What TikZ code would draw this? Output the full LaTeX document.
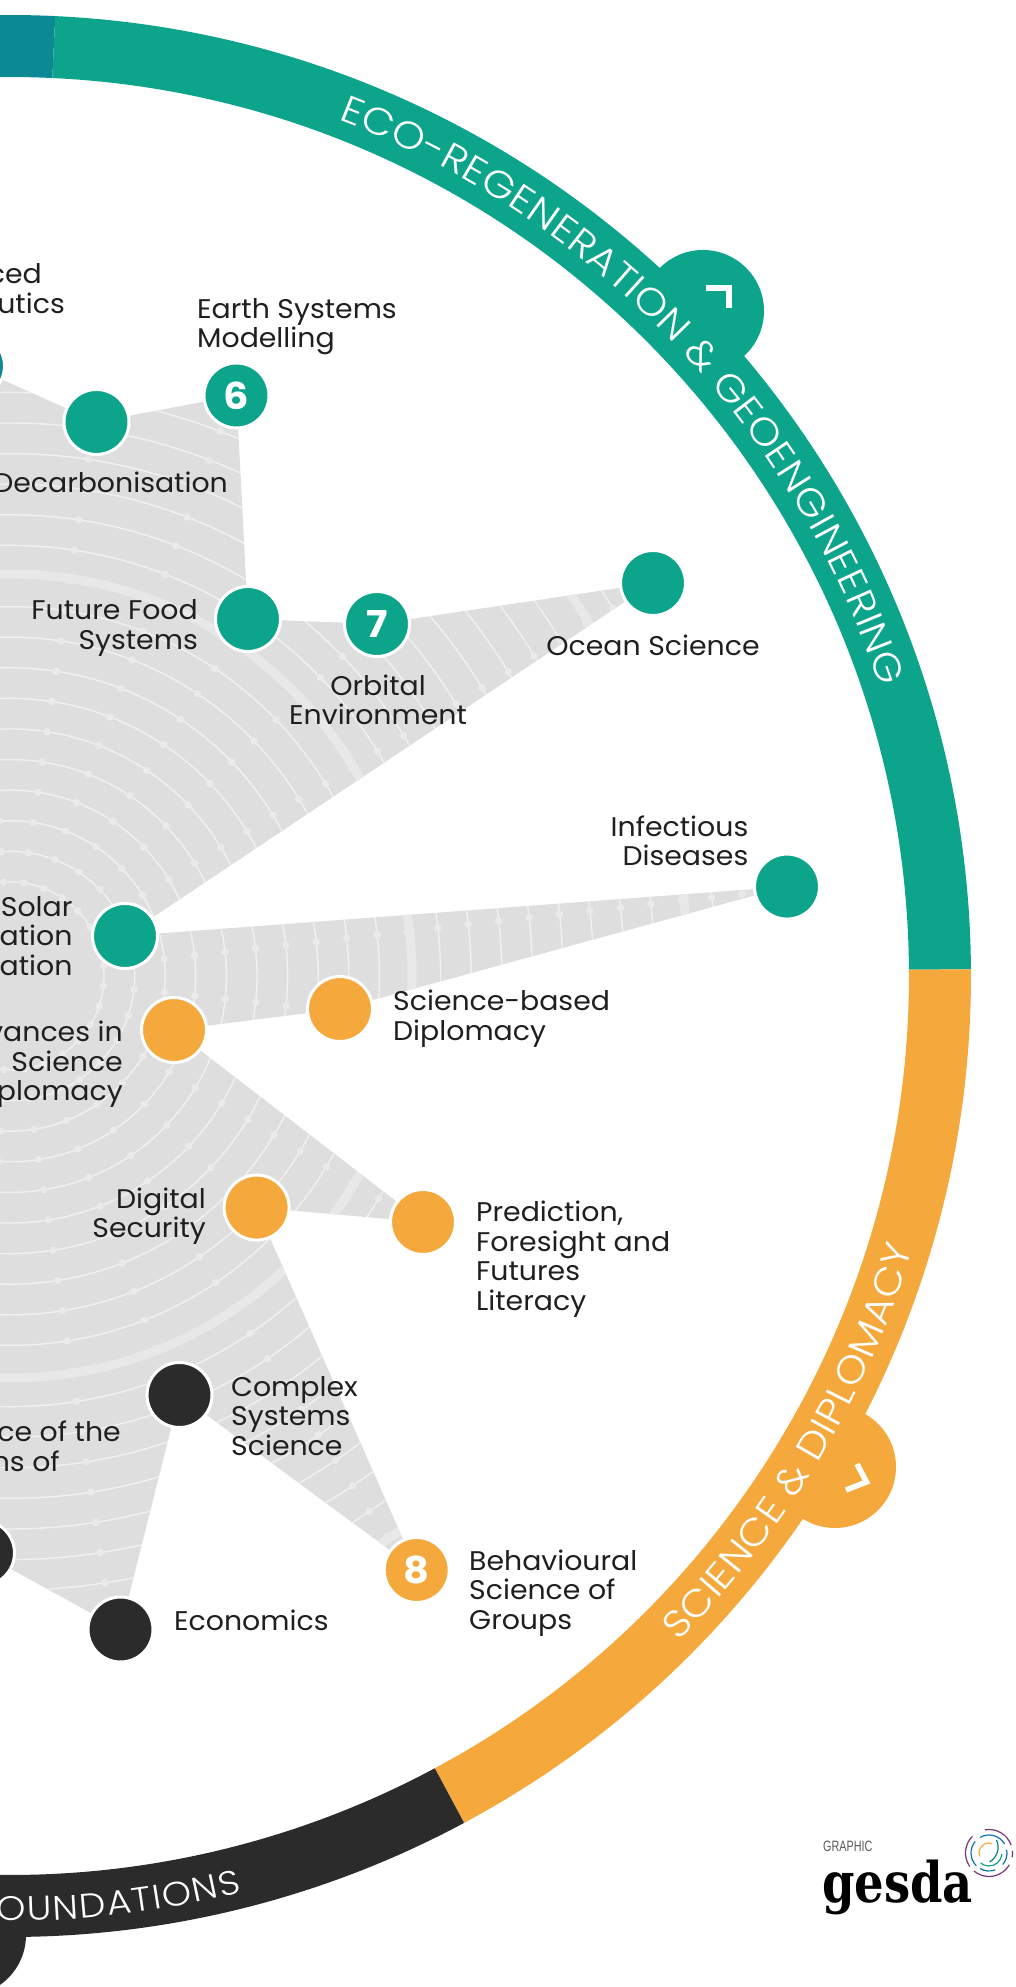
\documentclass[tikz,border=0pt]{standalone}
\usepackage{fontspec}
\usetikzlibrary{decorations.text,backgrounds}
\setmainfont{Poppins}
\newfontfamily\labelf{Poppins}[FakeStretch=1.05]
\newfontfamily\ringf{Poppins Light}[FakeStretch=1.1]
\newfontfamily\numf{Poppins Bold}[FakeStretch=1.08]
\newfontfamily\logof{DejaVu Serif}[FakeStretch=0.83]
\newfontfamily\gfont{Liberation Sans}[FakeStretch=0.72]
\definecolor{teal1}{HTML}{0CA48B}
\definecolor{blue1}{HTML}{0B8A96}
\definecolor{orange1}{HTML}{F5A93D}
\definecolor{dark1}{HTML}{2B2B2B}
\definecolor{wedge}{HTML}{DEDEDE}
\definecolor{arcc}{HTML}{F0F0F0}
\definecolor{dotc}{HTML}{EAEAEA}
\definecolor{thick1}{HTML}{E8E8E8}
\tikzset{
  dotnode/.style={circle,minimum size=65,inner sep=0,draw=white,line width=3pt,text=white,font={\fontsize{37}{37}\selectfont\numf}},
  tn/.style={dotnode,fill=teal1},
  on/.style={dotnode,fill=orange1},
  dn/.style={dotnode,fill=dark1},
  lab/.style={inner sep=0,text=black!88,font={\fontsize{27}{29.5}\selectfont\labelf}},
  chev/.style={draw=white,line width=5.5pt,line join=miter},
}
\newcommand{\ringseg}[3]{\fill[#1] ([shift={(C)}]#2:961) arc[start angle=#2,end angle=#3,radius=961] -- ([shift={(C)}]#3:899) arc[start angle=#3,end angle=#2,radius=899] -- cycle;}
\begin{document}
\begin{tikzpicture}[x=1pt,y=1pt]
\path[use as bounding box,clip] (0,0) rectangle (1016,1987);
\coordinate (C) at (10,1011);
% ring
\ringseg{blue1}{87.3}{95}
\ringseg{teal1}{0.4}{87.3}
\ringseg{orange1}{-61.8}{0.4}
\ringseg{dark1}{-95}{-61.8}
% bumps
\node[circle,fill=teal1,minimum size=122,inner sep=0] (bumpT) at (703,1987-311) {};
\node[circle,fill=orange1,minimum size=122,inner sep=0] (bumpO) at (835,1987-1467) {};
\node[circle,fill=dark1,minimum size=122,inner sep=0] (bumpD) at (-35,1987-1935) {};
\draw[chev] (706,1987-288) -- (729,1987-288) -- (729,1987-308);
\draw[chev] (857,1987-1464) -- (866.5,1987-1482) -- (846,1987-1490);
% ring text
\path[decorate,decoration={text along path,text align={fit to path},
  text={|\fontsize{38}{38}\selectfont\ringf\color{white}|ECO-REGENERATION {\&} GEOENGINEERING}}]
  ([shift={(C)}]69:917) arc[start angle=69,end angle=18.4,radius=917];
\path[decorate,decoration={text along path,text align={fit to path},
  text={|\fontsize{38}{38}\selectfont\ringf\color{white}|SCIENCE {\&} DIPLOMACY}}]
  ([shift={(C)}]-44.9:943) arc[start angle=-44.9,end angle=-16.8,radius=943];
\path[decorate,decoration={text along path,text align={fit to path},
  text={|\fontsize{34}{34}\selectfont\ringf\color{white}|OUNDATIONS}}]
  ([shift={(C)}]-90.8:945) arc[start angle=-90.8,end angle=-75.8,radius=945];
% nodes
\node[tn,fill=blue1] (nTop) at (-28,1987-366) {};
\node[tn] (nDec) at (96.5,1987-422) {};
\node[tn] (nSix) at (236.5,1987-395.5) {6};
\node[tn] (nFood) at (248,1987-619) {};
\node[tn] (nSeven) at (377,1987-624) {7};
\node[tn] (nOcean) at (653,1987-583) {};
\node[tn] (nSolar) at (125,1987-936) {};
\node[tn] (nInf) at (787,1987-886.6) {};
\node[on] (nDip) at (340,1987-1009) {};
\node[on] (nAdv) at (174,1987-1030) {};
\node[on] (nDig) at (256.6,1987-1207.6) {};
\node[on] (nPred) at (423,1987-1222) {};
\node[on] (nEight) at (416.7,1987-1570) {8};
\node[dn] (nCom) at (179.5,1987-1395) {};
\node[dn] (nEco) at (120.5,1987-1629.5) {};
\node[dn] (nBot) at (-18,1987-1553) {};
% labels
\node[lab,anchor=east,align=right] (lA) at (42,1987-274) {ced};
\node[lab,anchor=east,align=right] (lB) at (65,1987-303) {utics};
\node[lab,anchor=west,align=left] (lEarth) at (197,1987-326.5) {Earth Systems\\Modelling};
\node[lab,anchor=east] (lDec) at (228,1987-482) {Decarbonisation};
\node[lab,anchor=east,align=right] (lFood) at (198,1987-628) {Future Food\\Systems};
\node[lab,anchor=center,align=center] (lOrb) at (378,1987-700) {Orbital\\Environment};
\node[lab,anchor=center] (lOcean) at (653,1987-645) {Ocean Science};
\node[lab,anchor=east,align=right] (lInf) at (748.5,1987-841) {Infectious\\Diseases};
\node[lab,anchor=east,align=right] (lSolar) at (72.6,1987-936) {Solar\\ation\\ation};
\node[lab,anchor=east,align=right] (lAdv) at (123,1987-1064.5) {vances in\\Science\\plomacy};
\node[lab,anchor=west,align=left] (lDip) at (393,1987-1018.5) {Science-based\\Diplomacy};
\node[lab,anchor=east,align=right] (lDig) at (206,1987-1216) {Digital\\Security};
\node[lab,anchor=west,align=left] (lPred) at (476,1987-1259) {Prediction,\\Foresight and\\Futures\\Literacy};
\node[lab,anchor=west,align=left] (lCom) at (231,1987-1416) {Complex\\Systems\\Science};
\node[lab,anchor=east] (lC) at (121,1987-1431.5) {ce of the};
\node[lab,anchor=east] (lD) at (60,1987-1461) {ns of};
\node[lab,anchor=west,align=left] (lBeh) at (469,1987-1593) {Behavioural\\Science of\\Groups};
\node[lab,anchor=west] (lEco) at (174,1987-1620) {Economics};
% logo
\node[inner sep=0,anchor=base west,text=black!65,font={\fontsize{15}{15}\selectfont\gfont}] (lGr) at (823,1987-1852) {GRAPHIC};
\node[inner sep=0,anchor=base west,text=black,font={\fontsize{56}{56}\selectfont\logof\bfseries}] (lGe) at (822,1987-1903) {gesda};
\begin{scope}[shift={(989,1987-1853)},line width=1.2pt]
 \draw[violet!70!black!80] (100:23.5) arc[start angle=100,end angle=20,radius=23.5];
 \draw[violet!70!black!80] (5:23.5) arc[start angle=5,end angle=-10,radius=23.5];
 \draw[violet!70!black!80] (-30:23.5) arc[start angle=-30,end angle=-130,radius=23.5];
 \draw[violet!70!black!80] (135:23.5) arc[start angle=135,end angle=215,radius=23.5];
 \draw[teal1!70!blue] (120:18) arc[start angle=120,end angle=30,radius=18];
 \draw[teal1!70!blue] (10:18) arc[start angle=10,end angle=-40,radius=18];
 \draw[teal1!70!blue] (-70:18) arc[start angle=-70,end angle=-120,radius=18];
 \draw[teal1!70!blue] (140:18) arc[start angle=140,end angle=225,radius=18];
 \draw[orange1] (70:10) arc[start angle=70,end angle=200,radius=10];
 \draw[teal1] (-5:13) arc[start angle=-5,end angle=-130,radius=13];
 \draw[teal1!80!black] (60:15) arc[start angle=25,end angle=-60,radius=17];
\end{scope}
% wedge
\begin{pgfonlayer}{background}
 \fill[wedge] (nTop.center)--(nDec.center)--(nSix.center)--(nFood.center)--(nSeven.center)--(nOcean.center)--(nSolar.center)--(nInf.center)--(nDip.center)--(nAdv.center)--(nPred.center)--(nDig.center)--(nEight.center)--(nCom.center)--(nEco.center)--(nBot.center)--cycle;
 \begin{scope}
 \clip (nTop.center)--(nDec.center)--(nSix.center)--(nFood.center)--(nSeven.center)--(nOcean.center)--(nSolar.center)--(nInf.center)--(nDip.center)--(nAdv.center)--(nPred.center)--(nDig.center)--(nEight.center)--(nCom.center)--(nEco.center)--(nBot.center)--cycle;
 \foreach \k in {-10,...,12}{
   \pgfmathsetmacro{\r}{400+30.6*\k}
   \draw[arcc,line width=1.4pt] (C) circle[radius=\r];
   \foreach \a in {-93.6,-81.1,-68.6,-56.1,-43.6,-31.1,-18.6,-6.1,6.4,18.9,31.4,43.9,56.4,68.9,81.4,93.9}{
     \fill[dotc] ([shift={(C)}]\a:\r) circle[radius=3.8];
   }
 }
 \draw[thick1,line width=9pt] (C) circle[radius=402];
 \draw[thick1,line width=9pt] (C) circle[radius=678];
 \end{scope}
\end{pgfonlayer}
\end{tikzpicture}
\end{document}
